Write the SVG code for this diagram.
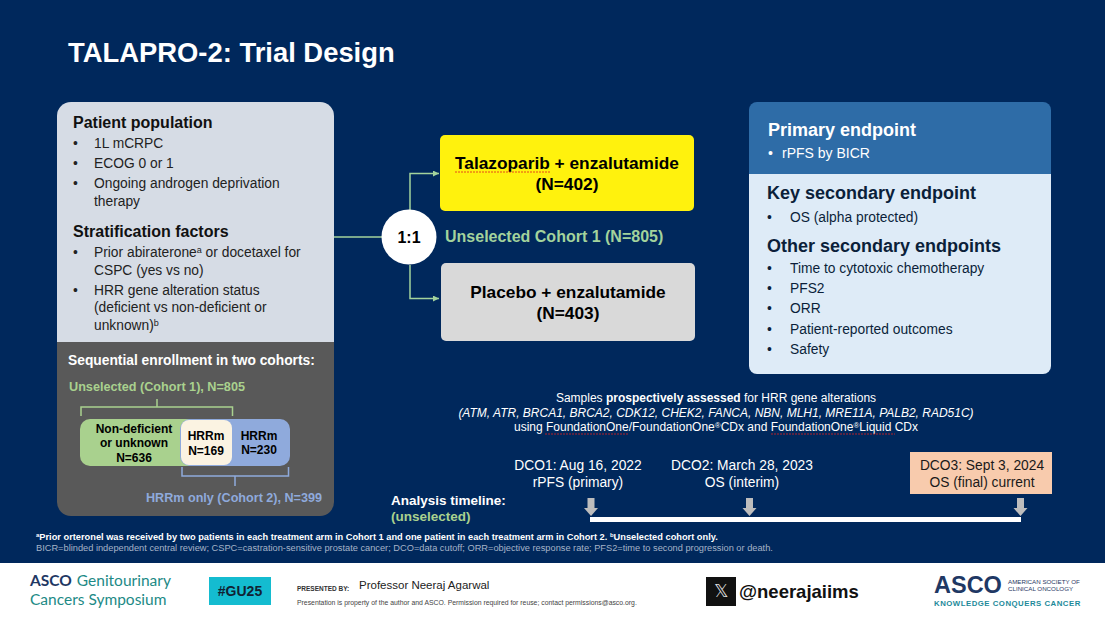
<svg xmlns="http://www.w3.org/2000/svg" width="1105" height="620" viewBox="0 0 1105 620">
<style>
text{font-family:"Liberation Sans",Arial,sans-serif;fill:#000}
.w{fill:#fff}.b{font-weight:700}.m{text-anchor:middle}
.h{font-size:16px;font-weight:700;fill:#111}
.t{font-size:13.800px;fill:#222}
.e{font-size:13.800px;fill:#0b1f3a}
.h2{font-size:18px;font-weight:700;fill:#0b1f3a}
.c{fill:none;stroke:#a3d39c;stroke-width:1.5}
.sq{fill:none;stroke:#e02020;stroke-width:.8;stroke-dasharray:2 1}
.d{font-size:13.800px;fill:#fff}
.s{font-size:12px;fill:#fff}
.ga{fill:#bdbdbd}
</style>
<defs><marker id="a" markerWidth="5" markerHeight="5" refX="4" refY="2" orient="auto"><path d="M0 0L4 2L0 4Z" fill="#a3d39c"/></marker></defs>
<rect width="1105" height="620" fill="#00285c"/>
<rect y="563" width="1105" height="57" fill="#fff"/>
<text x="68" y="62" class="w b" font-size="27.400">TALAPRO-2: Trial Design</text>

<g id="connectors">
<path class="c" d="M334 237H384"/>
<path class="c" d="M410 210V173.500H439" marker-end="url(#a)"/>
<path class="c" d="M410 265V298.500H439" marker-end="url(#a)"/>
</g>

<g id="population">
<path d="M57 342V116a14 14 0 0 1 14-14H320a14 14 0 0 1 14 14V342Z" fill="#d6dce5"/>
<path d="M57 342H334V502a14 14 0 0 1-14 14H71a14 14 0 0 1-14-14Z" fill="#595959"/>
<text x="73" y="128" class="h">Patient population</text>
<text class="t"><tspan x="73" y="148">•</tspan><tspan x="94">1L mCRPC</tspan><tspan x="73" y="168">•</tspan><tspan x="94">ECOG 0 or 1</tspan><tspan x="73" y="188">•</tspan><tspan x="94">Ongoing androgen deprivation</tspan><tspan x="94" y="206">therapy</tspan></text>
<text x="73" y="237" class="h">Stratification factors</text>
<text class="t"><tspan x="73" y="257">•</tspan><tspan x="94">Prior abiraterone</tspan><tspan font-size="9" dy="-4">a</tspan><tspan dy="4"> or docetaxel for</tspan><tspan x="94" y="275">CSPC (yes vs no)</tspan><tspan x="73" y="295">•</tspan><tspan x="94">HRR gene alteration status</tspan><tspan x="94" y="312">(deficient vs non-deficient or</tspan><tspan x="94" y="330">unknown)</tspan><tspan font-size="9" dy="-4">b</tspan></text>
<text x="68" y="365" class="w b" font-size="13.800">Sequential enrollment in two cohorts:</text>
<text x="69" y="391" class="b" font-size="12.650" style="fill:#a9d18e">Unselected (Cohort 1), N=805</text>
<path d="M81 416V407H232.500V416M157 407V399" fill="none" stroke="#a9d18e" stroke-width="1.500"/>
<rect x="80" y="419" width="130" height="47" rx="10" fill="#a9d18e"/>
<rect x="180" y="419" width="110" height="47" rx="10" fill="#8faadc"/>
<rect x="181" y="420" width="51" height="45" rx="8" fill="#fbf3e2"/>
<g class="b" font-size="12" text-anchor="middle">
<text x="134" y="433">Non-deficient</text><text x="134" y="447">or unknown</text><text x="134" y="462">N=636</text>
<text x="206" y="440">HRRm</text><text x="206" y="455">N=169</text>
<text x="259" y="440">HRRm</text><text x="259" y="454">N=230</text>
</g>
<path d="M182 467V476H288.500V467M235 476V486" fill="none" stroke="#8faadc" stroke-width="1.500"/>
<text x="146" y="502" class="b" font-size="12.600" style="fill:#8faadc">HRRm only (Cohort 2), N=399</text>
</g>

<g id="arm-1">
<rect x="440" y="135" width="254" height="76" rx="5" fill="#fff20d"/>
<text x="567" y="169" class="m b" font-size="17.300">Talazoparib + enzalutamide</text>
<text x="567" y="190" class="m b" font-size="17.300">(N=402)</text>
<path class="sq" d="M455 172H550"/>
</g>
<g id="arm-2">
<rect x="441" y="263" width="254" height="78" rx="5" fill="#d9d9d9"/>
<text x="568" y="298" class="m b" font-size="17.300">Placebo + enzalutamide</text>
<text x="568" y="319" class="m b" font-size="17.300">(N=403)</text>
</g>
<g id="randomization">
<circle cx="409" cy="237" r="27.500" fill="#fff"/>
<text x="409" y="243" class="m b" font-size="16">1:1</text>
</g>
<text x="445" y="242" class="b" font-size="16" style="fill:#a3d39c">Unselected Cohort 1 (N=805)</text>

<g id="endpoints">
<path d="M749 174V110a8 8 0 0 1 8-8H1043a8 8 0 0 1 8 8V174Z" fill="#2e6ca7"/>
<path d="M749 174H1051V366a8 8 0 0 1-8 8H757a8 8 0 0 1-8-8Z" fill="#deebf7"/>
<text x="768" y="136" class="w b" font-size="18">Primary endpoint</text>
<text x="768" y="158" class="w" font-size="14">•<tspan x="782">rPFS by BICR</tspan></text>
<text x="767" y="199" class="h2">Key secondary endpoint</text>
<text class="e"><tspan x="767" y="222">•</tspan><tspan x="790">OS (alpha protected)</tspan></text>
<text x="767" y="252" class="h2">Other secondary endpoints</text>
<text class="e"><tspan x="767" y="273">•</tspan><tspan x="790">Time to cytotoxic chemotherapy</tspan><tspan x="767" y="293">•</tspan><tspan x="790">PFS2</tspan><tspan x="767" y="313">•</tspan><tspan x="790">ORR</tspan><tspan x="767" y="334">•</tspan><tspan x="790">Patient-reported outcomes</tspan><tspan x="767" y="354">•</tspan><tspan x="790">Safety</tspan></text>
</g>

<g id="samples">
<text x="716" y="402" class="m s">Samples <tspan font-weight="700">prospectively assessed</tspan> for HRR gene alterations</text>
<text x="716" y="417" class="m s" font-style="italic">(ATM, ATR, BRCA1, BRCA2, CDK12, CHEK2, FANCA, NBN, MLH1, MRE11A, PALB2, RAD51C)</text>
<text x="716" y="431" class="m s">using FoundationOne/FoundationOne<tspan font-size="8" dy="-3">®</tspan><tspan dy="3">CDx and FoundationOne</tspan><tspan font-size="8" dy="-3">®</tspan><tspan dy="3">Liquid CDx</tspan></text>
<path class="sq" d="M545 434H629M771 434H895"/>
</g>

<g id="timeline">
<rect x="910" y="452" width="142" height="42" fill="#f8cbad"/>
<text x="578" y="470" class="m d">DCO1: Aug 16, 2022</text><text x="578" y="487" class="m d">rPFS (primary)</text>
<text x="742" y="470" class="m d">DCO2: March 28, 2023</text><text x="742" y="487" class="m d">OS (interim)</text>
<text x="982" y="470" class="m d" style="fill:#1a1a1a">DCO3: Sept 3, 2024</text><text x="982" y="487" class="m d" style="fill:#1a1a1a">OS (final) current</text>
<text x="391" y="505" class="w b" font-size="13.500">Analysis timeline:</text>
<text x="391" y="521" class="b" font-size="13.500" style="fill:#a9d18e">(unselected)</text>
<rect x="590" y="517" width="431" height="5" fill="#fff"/>
<path class="ga" d="M587.500 498h7v10h3.500l-7 8-7-8h3.500Z"/>
<path class="ga" d="M746 498h7v10h3.500l-7 8-7-8h3.500Z"/>
<path class="ga" d="M1017 498h7v10h3.500l-7 8-7-8h3.500Z"/>
</g>

<g id="footnotes">
<text x="36" y="540" class="w b" font-size="9.250"><tspan font-size="6" dy="-3">a</tspan><tspan dy="3">Prior orteronel was received by two patients in each treatment arm in Cohort 1 and one patient in each treatment arm in Cohort 2. </tspan><tspan font-size="6" dy="-3">b</tspan><tspan dy="3">Unselected cohort only.</tspan></text>
<text x="36" y="551" font-size="9.250" style="fill:#a6b4c8">BICR=blinded independent central review; CSPC=castration-sensitive prostate cancer; DCO=data cutoff; ORR=objective response rate; PFS2=time to second progression or death.</text>
</g>

<g id="footer">
<text font-size="15.500" style="font-family:Lato,'Liberation Sans',sans-serif;fill:#1d8a86"><tspan x="30" y="586" font-weight="700" style="fill:#1f3864">ASCO</tspan><tspan dx="5">Genitourinary</tspan></text>
<text x="30" y="605" font-size="15.500" style="font-family:Lato,'Liberation Sans',sans-serif;fill:#1d8a86">Cancers Symposium</text>
<rect x="209" y="577" width="62" height="28" fill="#14bcd0"/>
<text x="240" y="596" class="m b" font-size="14" style="fill:#123">#GU25</text>
<text x="297" y="591" font-size="6.500" font-weight="700" style="fill:#333">PRESENTED BY:</text>
<text x="359" y="589" font-size="11.500" style="fill:#222">Professor Neeraj Agarwal</text>
<text x="297" y="605" font-size="6.850" style="fill:#444">Presentation is property of the author and ASCO. Permission required for reuse; contact permissions@asco.org.</text>
<rect x="706" y="577" width="30" height="29" fill="#111"/>
<text x="721" y="597" class="m" font-size="18" style="fill:#ddd">𝕏</text>
<text x="739" y="598" class="b" font-size="18.500" style="fill:#111">@neerajaiims</text>
<text class="b" style="fill:#1f3864"><tspan x="934" y="593" font-size="23.500">ASCO</tspan><tspan x="934" y="606" font-size="7.800" letter-spacing=".5" style="fill:#1d8a9a">KNOWLEDGE CONQUERS CANCER</tspan></text>
<text font-size="6.200" style="fill:#1f3864"><tspan x="1008" y="584">AMERICAN SOCIETY OF</tspan><tspan x="1008" y="591">CLINICAL ONCOLOGY</tspan></text>
</g>
</svg>
